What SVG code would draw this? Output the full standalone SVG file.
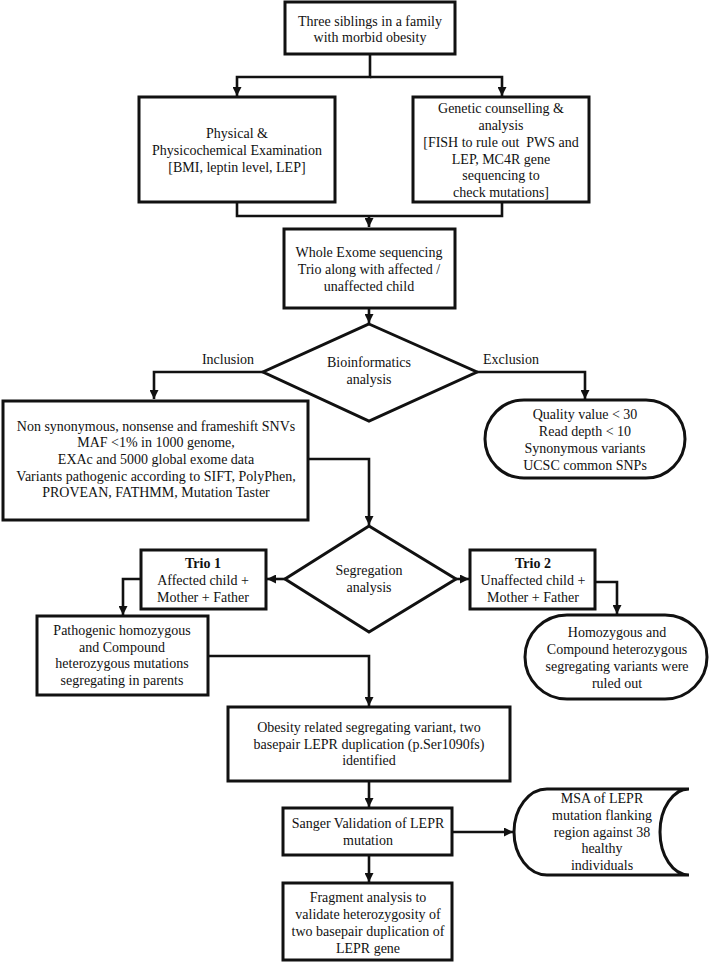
<svg xmlns="http://www.w3.org/2000/svg" width="709" height="962" viewBox="0 0 709 962">
<defs>
<style>
.b{fill:#fff;stroke:#111;stroke-width:3}
.c{fill:none;stroke:#111;stroke-width:2.6}
text{font-family:"Liberation Serif","Times New Roman",serif;font-size:14px;fill:#111;text-anchor:middle}
.bold{font-weight:bold}
</style>
<marker id="ah" viewBox="0 0 10 10" refX="10" refY="5" markerWidth="9" markerHeight="9" markerUnits="userSpaceOnUse" orient="auto"><path d="M0,0 L10,5 L0,10 z" fill="#111"/></marker>
</defs>
<rect width="709" height="962" fill="#fff"/>
<g id="connectors">
<path class="c" d="M370,54 V77 H237 V96" marker-end="url(#ah)"/>
<path class="c" d="M370,77 H502 V96" marker-end="url(#ah)"/>
<path class="c" d="M237,202 V216 H502 V202"/>
<path class="c" d="M369,216 V227" marker-end="url(#ah)"/>
<path class="c" d="M369,308 V323" marker-end="url(#ah)"/>
<path class="c" d="M263,372 H154 V399" marker-end="url(#ah)"/>
<path class="c" d="M477,372 H585 V399" marker-end="url(#ah)"/>
<path class="c" d="M308,459 H369 V525" marker-end="url(#ah)"/>
<path class="c" d="M285,579 H267" marker-end="url(#ah)"/>
<path class="c" d="M456,579 H469" marker-end="url(#ah)"/>
<path class="c" d="M141,579 H123 V615" marker-end="url(#ah)"/>
<path class="c" d="M595,582 H617 V614" marker-end="url(#ah)"/>
<path class="c" d="M208,656 H369 V706" marker-end="url(#ah)"/>
<path class="c" d="M369,781 V807" marker-end="url(#ah)"/>
<path class="c" d="M452,832 H513" marker-end="url(#ah)"/>
<path class="c" d="M369,855 V882" marker-end="url(#ah)"/>
<text x="228" y="364">Inclusion</text>
<text x="511" y="364">Exclusion</text>
</g>
<g id="n1">
<rect class="b" x="285" y="2" width="170" height="52"/>
<text x="370" y="26">Three siblings in a family</text>
<text x="370" y="42">with morbid obesity</text>
</g>
<g id="n2">
<rect class="b" x="139" y="97" width="196" height="105"/>
<text x="237" y="138">Physical &amp;</text>
<text x="237" y="155">Physicochemical Examination</text>
<text x="237" y="172">[BMI, leptin level, LEP]</text>
</g>
<g id="n3">
<rect class="b" x="413" y="97" width="176" height="105"/>
<text x="501" y="113">Genetic counselling &amp;</text>
<text x="501" y="130">analysis</text>
<text x="501" y="147" xml:space="preserve">[FISH to rule out  PWS and</text>
<text x="501" y="164">LEP, MC4R gene</text>
<text x="501" y="180">sequencing to</text>
<text x="501" y="197">check mutations]</text>
</g>
<g id="n4">
<rect class="b" x="284" y="229" width="171" height="79"/>
<text x="369" y="257">Whole Exome sequencing</text>
<text x="369" y="274">Trio along with affected /</text>
<text x="369" y="291">unaffected child</text>
</g>
<g id="n5">
<polygon class="b" points="369,324 477,372 369,421 263,372"/>
<text x="369" y="367">Bioinformatics</text>
<text x="369" y="384">analysis</text>
</g>
<g id="n6">
<rect class="b" x="3" y="401" width="305" height="119"/>
<text x="156" y="431">Non synonymous, nonsense and frameshift SNVs</text>
<text x="156" y="447">MAF &lt;1% in 1000 genome,</text>
<text x="156" y="464">EXAc and 5000 global exome data</text>
<text x="156" y="481">Variants pathogenic according to SIFT, PolyPhen,</text>
<text x="156" y="497">PROVEAN, FATHMM, Mutation Taster</text>
</g>
<g id="n7">
<rect class="b" x="485" y="400" width="200" height="78" rx="39"/>
<text x="585" y="419">Quality value &lt; 30</text>
<text x="585" y="436">Read depth &lt; 10</text>
<text x="585" y="453">Synonymous variants</text>
<text x="585" y="470">UCSC common SNPs</text>
</g>
<g id="n8">
<polygon class="b" points="369,526 456,579 369,632 285,579"/>
<text x="369" y="575">Segregation</text>
<text x="369" y="592">analysis</text>
</g>
<g id="n9">
<rect class="b" x="141" y="550" width="125" height="59"/>
<text x="203" y="568" class="bold">Trio 1</text>
<text x="203" y="585">Affected child +</text>
<text x="203" y="602">Mother + Father</text>
</g>
<g id="n10">
<rect class="b" x="470" y="550" width="125" height="59"/>
<text x="533" y="568" class="bold">Trio 2</text>
<text x="533" y="585">Unaffected child +</text>
<text x="533" y="602">Mother + Father</text>
</g>
<g id="n11">
<rect class="b" x="37" y="616" width="171" height="79"/>
<text x="122" y="635">Pathogenic homozygous</text>
<text x="122" y="652">and Compound</text>
<text x="122" y="668">heterozygous mutations</text>
<text x="122" y="685">segregating in parents</text>
</g>
<g id="n12">
<rect class="b" x="525" y="615" width="182" height="84" rx="42"/>
<text x="617" y="637">Homozygous and</text>
<text x="617" y="654">Compound heterozygous</text>
<text x="617" y="671">segregating variants were</text>
<text x="617" y="688">ruled out</text>
</g>
<g id="n13">
<rect class="b" x="228" y="707" width="282" height="74"/>
<text x="369" y="732">Obesity related segregating variant, two</text>
<text x="369" y="749">basepair LEPR duplication (p.Ser1090fs)</text>
<text x="369" y="765">identified</text>
</g>
<g id="n14">
<rect class="b" x="283" y="808" width="169" height="47"/>
<text x="368" y="828">Sanger Validation of LEPR</text>
<text x="368" y="845">mutation</text>
</g>
<g id="n15">
<path class="b" d="M547,789 H689 A29,43 0 0 0 689,875 H547 A33,43 0 0 1 547,789 Z"/>
<text x="602" y="803">MSA of LEPR</text>
<text x="602" y="820">mutation flanking</text>
<text x="602" y="837">region against 38</text>
<text x="602" y="853">healthy</text>
<text x="602" y="870">individuals</text>
</g>
<g id="n16">
<rect class="b" x="283" y="883" width="169" height="77"/>
<text x="368" y="902">Fragment analysis to</text>
<text x="368" y="919">validate heterozygosity of</text>
<text x="368" y="936">two basepair duplication of</text>
<text x="368" y="953">LEPR gene</text>
</g>
</svg>
